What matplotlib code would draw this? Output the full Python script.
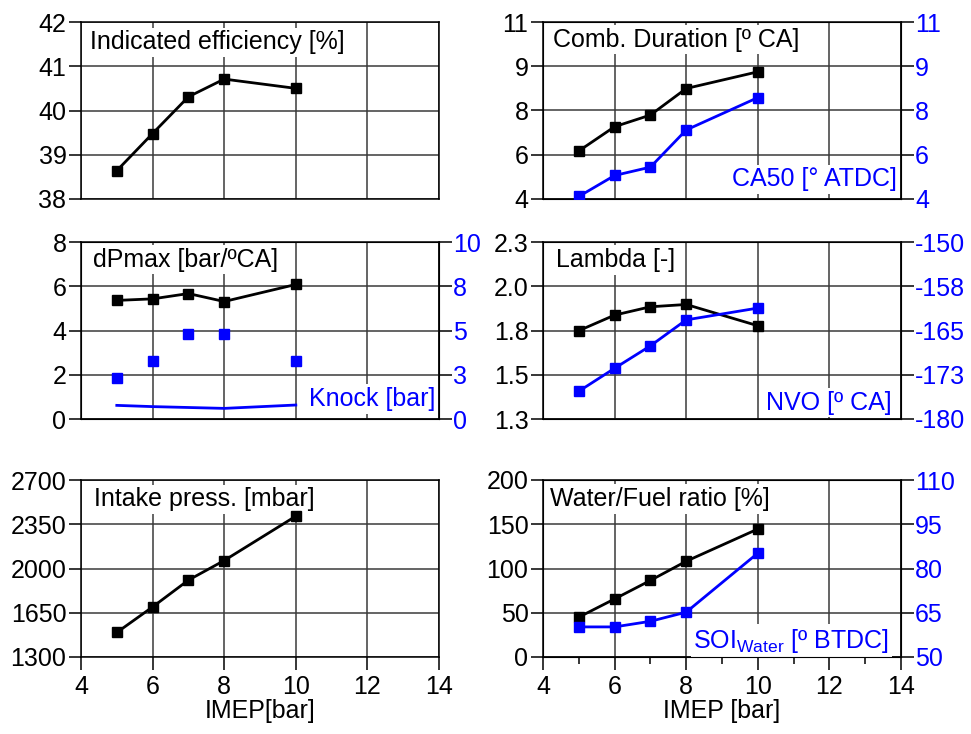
import matplotlib
matplotlib.use("Agg")
import matplotlib.pyplot as plt

plt.rcParams['font.family'] = ['Liberation Sans', 'DejaVu Sans']

# IMEP load points [bar]
imep = [5, 6, 7, 8, 10]

# left column
efficiency = [38.64, 39.48, 40.31, 40.71, 40.50]
dpmax = [5.36, 5.43, 5.67, 5.31, 6.08]
dpmax_blue = [2.29, 3.28, 4.78, 4.78, 3.28]
knock = [0.77, 0.70, 0.65, 0.60, 0.79]
intake_press = [1494, 1696, 1908, 2063, 2414]

# right column
comb_duration = [5.90, 6.86, 7.32, 8.37, 9.03]
ca50 = [4.10, 4.93, 5.26, 6.73, 8.01]
lambda_ = [1.799, 1.887, 1.934, 1.947, 1.827]
nvo = [-175.3, -171.4, -167.6, -163.2, -161.2]
water_fuel = [45.0, 65.6, 86.5, 108.2, 144.6]
soi_water = [60.2, 60.2, 62.1, 65.2, 85.2]

x_ticks = [4, 6, 8, 10, 12, 14]

BLUE = '#0000ff'
GRID = '#3a3a3a'
FS = 18

fig = plt.figure(figsize=(9.71, 7.34), dpi=100)

W, H = 358 / 971, 177 / 734
lefts = [81 / 971, 543 / 971]
bottoms = [1 - 199 / 734, 1 - 419 / 734, 1 - 657 / 734]


def make_ax(col, row, ylim, yticks, ylabels, label, lpos, xlabel=None):
    ax = fig.add_axes([lefts[col], bottoms[row], W, H])
    ax.set_xlim(4, 14)
    ax.set_ylim(*ylim)
    ax.set_xticks(x_ticks)
    ax.set_yticks(yticks)
    ax.set_yticklabels(ylabels)
    ax.grid(True, color=GRID, linewidth=1.1)
    ax.set_axisbelow(True)
    for s in ax.spines.values():
        s.set_linewidth(1.1)
    ax.tick_params(axis='y', direction='out', length=9, width=1.1, pad=1.5, labelsize=FS)
    ax.tick_params(axis='x', direction='out', length=9, width=1.1, pad=4, labelsize=FS)
    if xlabel is None:
        ax.tick_params(axis='x', length=0, labelbottom=False)
    else:
        ax.set_xlabel(xlabel, fontsize=FS, labelpad=0)
    # white box hides the grid but stays under the data
    ax.text(lpos[0], lpos[1], label, transform=ax.transAxes, fontsize=FS,
            va='center', ha='left', zorder=1,
            bbox=dict(facecolor='white', edgecolor='none', pad=2))
    return ax


def make_twin(ax, ylim, yticks, ylabels, label, lpos):
    tw = ax.twinx()
    tw.set_ylim(*ylim)
    tw.set_yticks(yticks)
    tw.set_yticklabels(ylabels)
    tw.tick_params(axis='y', direction='out', length=9, width=1.1, pad=1,
                   labelsize=FS, labelcolor=BLUE)
    tw.text(lpos[0], lpos[1], label, transform=tw.transAxes, fontsize=FS,
            va='center', ha='right', color=BLUE, zorder=1,
            bbox=dict(facecolor='white', edgecolor='none', pad=2))
    return tw


line_kw = dict(marker='s', markersize=6.5, linewidth=2, zorder=3)

# Indicated efficiency
ax = make_ax(0, 0, (38, 42), [38, 39, 40, 41, 42], ['38', '39', '40', '41', '42'],
             'Indicated efficiency [%]', (0.025, 0.885))
ax.plot(imep, efficiency, color='black', **line_kw)

# Combustion duration / CA50
ax = make_ax(1, 0, (4, 11), [4, 5.75, 7.5, 9.25, 11], ['4', '6', '8', '9', '11'],
             'Comb. Duration [º CA]', (0.027, 0.90))
ax.plot(imep, comb_duration, color='black', **line_kw)
tw = make_twin(ax, (4, 11), [4, 5.75, 7.5, 9.25, 11], ['4', '6', '8', '9', '11'],
               'CA50 [° ATDC]', (0.988, 0.111))
tw.plot(imep, ca50, color=BLUE, **line_kw)

# dPmax / Knock
ax = make_ax(0, 1, (0, 8), [0, 2, 4, 6, 8], ['0', '2', '4', '6', '8'],
             'dPmax [bar/ºCA]', (0.034, 0.90))
ax.plot(imep, dpmax, color='black', **line_kw)
tw = make_twin(ax, (0, 10), [0, 2.5, 5, 7.5, 10], ['0', '3', '5', '8', '10'],
               'Knock [bar]', (0.989, 0.113))
tw.plot(imep, dpmax_blue, color=BLUE, linestyle='none', marker='s', markersize=6.5, zorder=3)
tw.plot(imep, knock, color=BLUE, linewidth=2, zorder=3)

# Lambda / NVO
ax = make_ax(1, 1, (1.3, 2.3), [1.3, 1.55, 1.8, 2.05, 2.3], ['1.3', '1.5', '1.8', '2.0', '2.3'],
             'Lambda [-]', (0.036, 0.898))
ax.plot(imep, lambda_, color='black', **line_kw)
tw = make_twin(ax, (-180, -150), [-180, -172.5, -165, -157.5, -150],
               ['-180', '-173', '-165', '-158', '-150'], 'NVO [º CA]', (0.974, 0.092))
tw.plot(imep, nvo, color=BLUE, **line_kw)

# Intake pressure
ax = make_ax(0, 2, (1300, 2700), [1300, 1650, 2000, 2350, 2700],
             ['1300', '1650', '2000', '2350', '2700'],
             'Intake press. [mbar]', (0.037, 0.891), xlabel='IMEP[bar]')
ax.plot(imep, intake_press, color='black', **line_kw)

# Water/Fuel ratio / SOI water
ax = make_ax(1, 2, (0, 200), [0, 50, 100, 150, 200], ['0', '50', '100', '150', '200'],
             'Water/Fuel ratio [%]', (0.019, 0.894), xlabel='IMEP [bar]')
ax.set_xticks([5, 7, 9, 11, 13], minor=True)
ax.tick_params(axis='x', which='minor', direction='out', length=5, width=1.1)
ax.plot(imep, water_fuel, color='black', **line_kw)
tw = make_twin(ax, (50, 110), [50, 65, 80, 95, 110], ['50', '65', '80', '95', '110'],
               r'SOI$_{\mathregular{Water}}$ [º BTDC]', (0.967, 0.09))
tw.plot(imep, soi_water, color=BLUE, **line_kw)

fig.savefig('out.png', dpi=100)
